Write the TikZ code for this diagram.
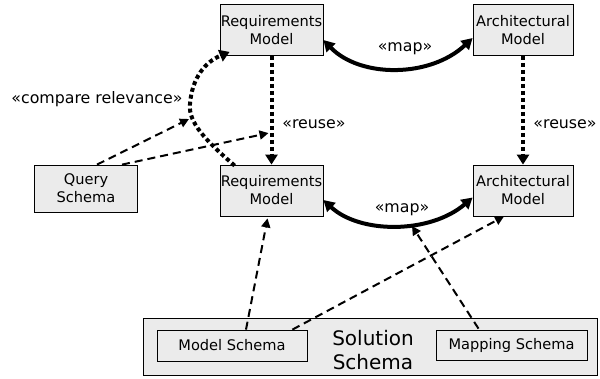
\documentclass[tikz,border=0pt]{standalone}
\usepackage{fontspec}
\setmainfont{DejaVu Sans}
\usetikzlibrary{arrows.meta,calc}
\definecolor{boxfill}{HTML}{EBEBEB}
\begin{document}
\begin{tikzpicture}[x=1pt,y=-1pt,
  modelbox/.style={draw=black,fill=boxfill,line width=0.8pt,align=center,
    inner sep=0pt,font=\fontsize{14.6}{18}\selectfont},
  lbl/.style={font=\fontsize{15.8}{19}\selectfont,inner sep=0pt},
  mapline/.style={line width=4pt,{Triangle[length=11pt,width=12pt]}-{Triangle[length=11pt,width=12pt]}},
  reuseline/.style={line width=4pt,dash pattern=on 4pt off 3pt,-{Triangle[length=10pt,width=12pt]}},
  useline/.style={line width=2pt,dash pattern=on 8pt off 5pt,-{Triangle[length=9pt,width=9pt]}}]
\useasboundingbox (0,0) rectangle (600,378);

% solution schema container
\node[modelbox,minimum width=454pt,minimum height=57pt] (sol) at (370,346.5) {};
\node[font=\fontsize{20}{24}\selectfont,align=center,inner sep=0pt] (soltext) at (373,350) {Solution\\Schema};
\node[modelbox,minimum width=150pt,minimum height=31pt] (ms) at (232,345.5) {Model Schema};
\node[modelbox,minimum width=151pt,minimum height=30pt] (mp) at (511.5,345) {Mapping Schema};

% models
\node[modelbox,minimum width=103pt,minimum height=51pt] (rq1) at (271.5,30) {Requirements\\Model};
\node[modelbox,minimum width=100pt,minimum height=51pt] (ar1) at (523,30) {Architectural\\Model};
\node[modelbox,minimum width=103pt,minimum height=51pt] (rq2) at (271.5,190.5) {Requirements\\Model};
\node[modelbox,minimum width=100pt,minimum height=51pt] (ar2) at (523,190.5) {Architectural\\Model};
\node[modelbox,minimum width=103pt,minimum height=47pt] (qs) at (86,188.5) {Query\\Schema};

% map relations
\draw[mapline] ($(rq1.east)+(0,10)$) .. controls (360,78) and (430,78) .. ($(ar1.west)+(0,8)$);
\node[lbl] (map1) at (405,49) {«map»};
\draw[mapline] ($(rq2.east)+(0,9.5)$) .. controls (360,234) and (430,234) .. ($(ar2.west)+(0,7)$);
\node[lbl] (map2) at (402,210) {«map»};

% reuse relations
\draw[reuseline] (rq1.south) -- coordinate[pos=0.71] (reusept) (rq2.north);
\draw[reuseline] (ar1.south) -- (ar2.north);
\node[lbl] (reuse1) at (314,124) {«reuse»};
\node[lbl] (reuse2) at (565,124) {«reuse»};

% compare relevance
\draw[reuseline] ($(rq2.north west)+(15,1)$) .. controls (205,140) and (188,122) .. (190,104)
  .. controls (192,78) and (205,62) .. ($(rq1.south west)+(10,-4)$);
\node[lbl] (cmp) at (97,99) {«compare relevance»};
\coordinate (crhit) at (189,119);

% query schema dependencies
\draw[useline] ($(qs.north)+(11,0)$) -- (crhit);
\draw[useline] ($(qs.north)+(36,0)$) -- ($(reusept)+(-3,0)$);

% solution schema dependencies
\draw[useline] ($(ms.north)+(14,0)$) -- ($(rq2.south)+(-4,2)$);
\draw[useline] ($(ms.north east)+(-15,0)$) -- ($(ar2.south)+(-19,0)$);
\draw[useline] ($(mp.north)+(-33,-1)$) -- (412,226);
\end{tikzpicture}
\end{document}
